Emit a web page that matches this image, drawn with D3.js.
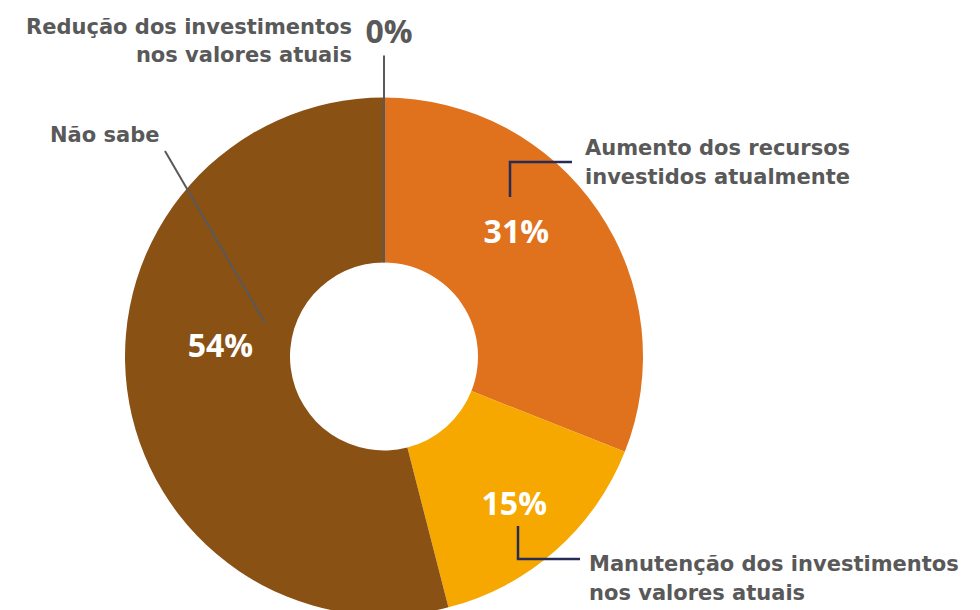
<!DOCTYPE html>
<html>
<head>
<meta charset="utf-8">
<script src="https://cdn.jsdelivr.net/npm/d3@7"></script>
<style>
  body { margin: 0; background: #fff; }
  text { font-family: "Open Sans", sans-serif; }
</style>
</head>
<body>
<svg width="980" height="610"></svg>
<script>
// data
const categories = ["Aumento dos recursos investidos atualmente",
  "Manutenção dos investimentos nos valores atuais",
  "Não sabe",
  "Redução dos investimentos nos valores atuais"];
const values = [31, 15, 54, 0];
const colors = ["#e0711d", "#f7a800", "#8a5115", "#595959"];
const labelLines = [
  ["Aumento dos recursos", "investidos atualmente"],
  ["Manutenção dos investimentos", "nos valores atuais"],
  ["Não sabe"],
  ["Redução dos investimentos", "nos valores atuais"]
];

let svg = d3.select("svg");
let cx = 384, cy = 356.5;
let rOut = 259, rIn = 94;
let g = svg.append("g").attr("transform", "translate(" + cx + "," + cy + ")");

let pie = d3.pie().sort(null).value(d => d);
let arcs = pie(values);
let arc = d3.arc().innerRadius(rIn).outerRadius(rOut);

g.selectAll("path.slice").data(arcs).enter().append("path")
  .attr("class", "slice")
  .attr("d", arc)
  .style("fill", (d, i) => colors[i]);

// percent labels: placed along each slice's mid angle (radius, angle nudge)
let pctPos = [[182, -0.16], [197, 0], [164, 0.19], [0, 0]];
function polar(r, a) { return [r * Math.sin(a), -r * Math.cos(a)]; }

arcs.forEach(function(d, i) {
  if (values[i] === 0) return;
  let mid = (d.startAngle + d.endAngle) / 2 + pctPos[i][1];
  let p = polar(pctPos[i][0], mid);
  g.append("text")
    .attr("x", p[0]).attr("y", p[1] + 11)
    .attr("text-anchor", "middle")
    .style("font-size", "32px").style("font-weight", 700)
    .style("fill", "#fff")
    .text(values[i] + "%");
});

// zero slice: line from the hole to the label
let zero = arcs[3];
let z0 = polar(rIn, zero.startAngle), z1 = polar(rOut + 42, zero.startAngle);
g.append("line")
  .attr("x1", z0[0]).attr("y1", z0[1]).attr("x2", z1[0]).attr("y2", z1[1])
  .style("stroke", "#595959").style("stroke-width", 2);
g.append("text")
  .attr("x", z1[0] + 5).attr("y", -314)
  .attr("text-anchor", "middle")
  .style("font-size", "32px").style("font-weight", 700)
  .style("fill", "#595959")
  .text("0%");

// leader lines
let navy = "#262c55";
svg.append("polyline")
  .attr("points", "510,197 510,162 572,162")
  .style("fill", "none").style("stroke", navy).style("stroke-width", 2.5);
svg.append("polyline")
  .attr("points", "518,526 518,559 580,559")
  .style("fill", "none").style("stroke", navy).style("stroke-width", 2.5);
svg.append("line")
  .attr("x1", 165).attr("y1", 151).attr("x2", 265).attr("y2", 323)
  .style("stroke", "#595959").style("stroke-width", 2);

// category labels
let labelPos = [
  {x: 585, y: 155, anchor: "start"},
  {x: 589, y: 571, anchor: "start"},
  {x: 50, y: 141.5, anchor: "start"},
  {x: 352, y: 33.5, anchor: "end"}
];
labelLines.forEach(function(lines, i) {
  let t = svg.append("text")
    .attr("x", labelPos[i].x).attr("y", labelPos[i].y)
    .attr("text-anchor", labelPos[i].anchor)
    .style("font-family", "'DejaVu Sans', sans-serif")
    .style("font-size", "21px").style("font-weight", 700)
    .style("fill", "#595959");
  lines.forEach(function(s, j) {
    t.append("tspan").attr("x", labelPos[i].x).attr("dy", j === 0 ? 0 : 28.5).text(s);
  });
});
</script>
</body>
</html>
